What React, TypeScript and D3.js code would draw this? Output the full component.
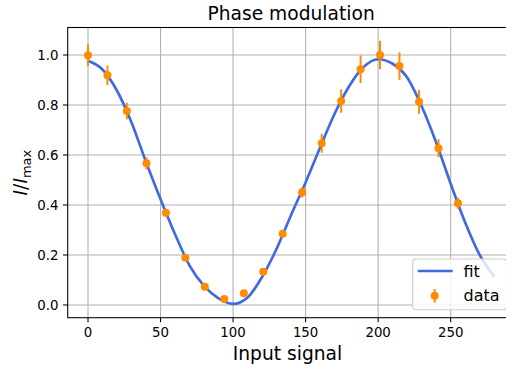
import React from 'react';
import * as d3 from 'd3';

// measured points with error bars
const dataX = [0, 13.4, 26.8, 40.3, 53.7, 67.1, 80.5, 93.9, 107.4, 120.8, 134.2, 147.6, 161.1, 174.5, 187.9, 201.3, 214.7, 228.2, 241.6, 255];
const dataY = [0.999, 0.919, 0.776, 0.567, 0.369, 0.189, 0.073, 0.024, 0.047, 0.133, 0.285, 0.451, 0.647, 0.816, 0.943, 1.0, 0.956, 0.813, 0.627, 0.407];
const dataErr = [0.043, 0.039, 0.033, 0.024, 0.016, 0.008, 0.003, 0.001, 0.002, 0.006, 0.013, 0.021, 0.038, 0.047, 0.055, 0.057, 0.055, 0.048, 0.036, 0.022];

// fit curve
const fitX = [0, 10, 20, 30, 40, 50, 60, 70, 80, 90, 100, 110, 120, 130, 140, 150, 160, 170, 180, 190, 200, 210, 220, 230, 240, 250, 260, 270, 280];
const fitY = [0.977, 0.942, 0.857, 0.73, 0.572, 0.423, 0.283, 0.157, 0.076, 0.026, 0.004, 0.03, 0.112, 0.225, 0.36, 0.49, 0.63, 0.765, 0.875, 0.952, 0.983, 0.965, 0.91, 0.795, 0.65, 0.485, 0.33, 0.2, 0.113];

const xTicks = [0, 50, 100, 150, 200, 250];
const yTicks = [0, 0.2, 0.4, 0.6, 0.8, 1.0];

const W = 506;
const H = 370;
const left = 67.7;
const right = 514.5;
const top = 27.5;
const bottom = 317.7;
const font = '"DejaVu Sans", sans-serif';
const blue = '#4169e1';
const orange = '#ff8c00';

const App = () => {
  const x = d3.scaleLinear([-14, 294], [left, right]);
  const y = d3.scaleLinear([-0.051, 1.11], [bottom, top]);

  const line = d3
    .line<number>()
    .curve(d3.curveMonotoneX)
    .x((i) => x(fitX[i]))
    .y((i) => y(fitY[i]));

  const I = d3.range(fitX.length);

  return (
    <svg width={W} height={H} viewBox={`0 0 ${W} ${H}`}
      style={{ position: 'absolute', left: 0, top: 0, background: '#fff' }}
      fontFamily={font}>
      <defs>
        <clipPath id="plot">
          <rect x={left} y={top} width={right - left} height={bottom - top} />
        </clipPath>
      </defs>
      <rect x={0} y={0} width={W} height={H} fill="#fff" />

      {/* grid */}
      <g stroke="#b0b0b0" strokeWidth={1.07}>
        {xTicks.map((t) => (
          <line key={'gx' + t} x1={x(t)} x2={x(t)} y1={top} y2={bottom} />
        ))}
        {yTicks.map((t) => (
          <line key={'gy' + t} x1={left} x2={right} y1={y(t)} y2={y(t)} />
        ))}
      </g>

      <g clipPath="url(#plot)">
        <path d={line(I) || ''} fill="none" stroke={blue} strokeWidth={2.67} />
        {dataX.map((d, i) => (
          <g key={'p' + i}>
            <line x1={x(d)} x2={x(d)} y1={y(dataY[i] - dataErr[i])} y2={y(dataY[i] + dataErr[i])}
              stroke={orange} strokeWidth={2} />
            <circle cx={x(d)} cy={y(dataY[i])} r={4} fill={orange} />
          </g>
        ))}
      </g>

      {/* spines */}
      <rect x={left} y={top} width={right - left} height={bottom - top} fill="none" stroke="#000" strokeWidth={1.07} />

      {/* x axis */}
      <g fontSize={13.33} fill="#000">
        {xTicks.map((t) => (
          <g key={'tx' + t}>
            <line x1={x(t)} x2={x(t)} y1={bottom} y2={bottom + 4.67} stroke="#000" strokeWidth={1.07} />
            <text x={x(t)} y={337} textAnchor="middle">{t}</text>
          </g>
        ))}
        {yTicks.map((t) => (
          <g key={'ty' + t}>
            <line x1={left - 4.67} x2={left} y1={y(t)} y2={y(t)} stroke="#000" strokeWidth={1.07} />
            <text x={58.4} y={y(t) + 4.8} textAnchor="end">{t.toFixed(1)}</text>
          </g>
        ))}
      </g>

      <text x={(left + right) / 2} y={20} textAnchor="middle" fontSize={18.67}>Phase modulation</text>
      <text x={287.5} y={360} textAnchor="middle" fontSize={18.67}>Input signal</text>
      <text transform={`translate(27,${(top + bottom) / 2}) rotate(-90)`} textAnchor="middle" fontSize={18.67}>
        <tspan fontStyle="italic">I</tspan>
        <tspan>/</tspan>
        <tspan fontStyle="italic">I</tspan>
        <tspan fontSize={13} dy={3.5}>max</tspan>
      </text>

      {/* legend */}
      <g>
        <rect x={412.7} y={259} width={506.5 - 412.7} height={309.7 - 259} rx={3.2}
          fill="#fff" fillOpacity={0.8} stroke="#cccccc" strokeWidth={1.07} />
        <line x1={417.7} x2={452.7} y1={271} y2={271} stroke={blue} strokeWidth={2.67} />
        <text x={463.5} y={276.7} fontSize={16}>fit</text>
        <line x1={434.7} x2={434.7} y1={289} y2={302.7} stroke={orange} strokeWidth={2} />
        <circle cx={434.7} cy={295.7} r={4} fill={orange} />
        <text x={463.5} y={300.5} fontSize={16}>data</text>
      </g>
    </svg>
  );
};

export default App;
